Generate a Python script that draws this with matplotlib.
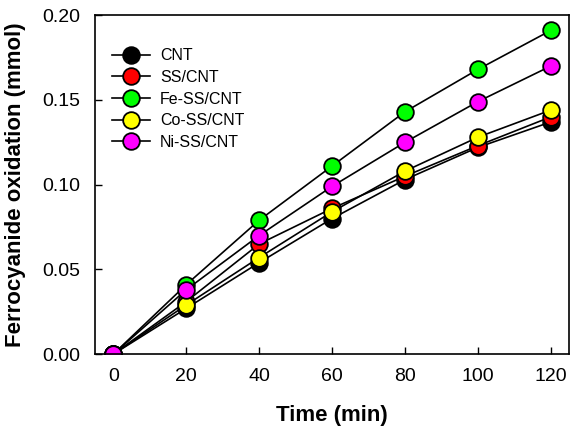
import numpy as np
import matplotlib.pyplot as plt

plt.rcParams['font.family'] = ['Liberation Sans', 'DejaVu Sans']

time = [0, 20, 40, 60, 80, 100, 120]
cnt = [0, 0.027, 0.054, 0.080, 0.103, 0.122, 0.137]
ss_cnt = [0, 0.031, 0.065, 0.086, 0.105, 0.123, 0.140]
fe_ss_cnt = [0, 0.041, 0.079, 0.111, 0.143, 0.168, 0.191]
co_ss_cnt = [0, 0.029, 0.057, 0.084, 0.108, 0.128, 0.144]
ni_ss_cnt = [0, 0.038, 0.070, 0.099, 0.125, 0.149, 0.170]

series = [
    ('CNT', cnt, 'black'),
    ('SS/CNT', ss_cnt, 'red'),
    ('Fe-SS/CNT', fe_ss_cnt, '#00ff00'),
    ('Co-SS/CNT', co_ss_cnt, 'yellow'),
    ('Ni-SS/CNT', ni_ss_cnt, 'magenta'),
]

fig = plt.figure(figsize=(5.76, 4.33), dpi=100)
ax = fig.add_axes([0.165, 0.182, 0.823, 0.783])

for name, vals, col in series:
    ax.plot(time, vals, color='black', lw=1.2, marker='o', ms=12,
            mfc=col, mec='black', mew=1.3, label=name)

ax.set_xlim(-5, 125)
ax.set_ylim(0, 0.2)
ax.set_xticks([0, 20, 40, 60, 80, 100, 120])
ax.set_yticks([0, 0.05, 0.10, 0.15, 0.20])
ax.yaxis.set_major_formatter(plt.FormatStrFormatter('%.2f'))
ax.tick_params(direction='in', length=5, width=1, labelsize=14,
               top=False, right=False)
ax.tick_params(axis='x', pad=10)
ax.tick_params(axis='y', pad=11)
for s in ax.spines.values():
    s.set_linewidth(1.2)

ax.set_xlabel('Time (min)', fontsize=16, fontweight='bold', labelpad=14)
ax.set_ylabel('Ferrocyanide oxidation (mmol)', fontsize=16, fontweight='bold', labelpad=11)

ax.legend(loc='upper left', bbox_to_anchor=(0.005, 0.945), frameon=False,
          fontsize=11.5, handlelength=2.4, labelspacing=0.42, handletextpad=0.63)

fig.savefig('out.png', dpi=100)
